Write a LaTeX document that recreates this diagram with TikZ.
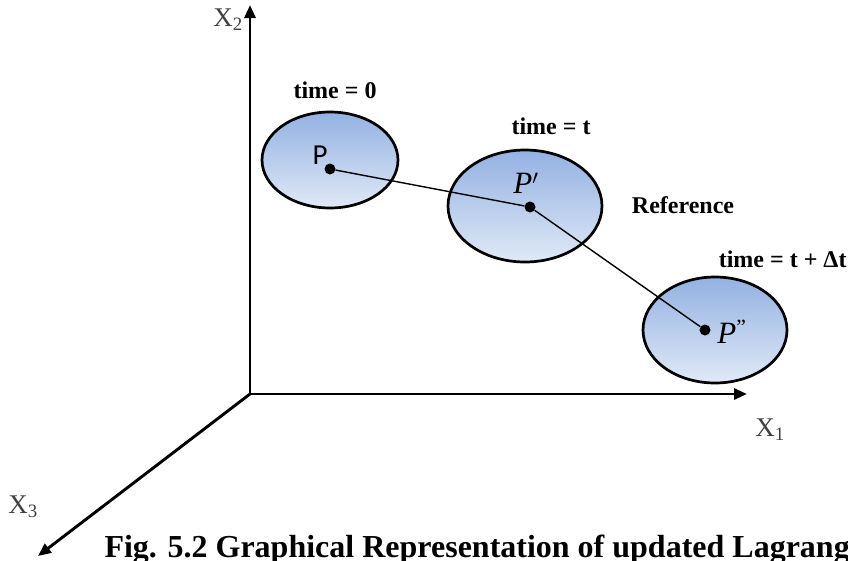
\documentclass[tikz,border=0pt]{standalone}
\usepackage{fontspec}
\setmainfont{Liberation Serif}
\newfontfamily\pointfont{Carlito}
\usetikzlibrary{arrows.meta,shapes.geometric}

\definecolor{bodytop}{HTML}{93B1E2}
\definecolor{bodybot}{HTML}{E0E9F7}

\tikzset{
  axis/.style={line width=2.9pt,-{Triangle[length=13pt,width=11pt]}},
  body/.style={ellipse,draw,line width=2.7pt,top color=bodytop,bottom color=bodybot,inner sep=0pt},
  mark dot/.style={circle,fill,inner sep=0pt,minimum size=11pt},
  axislabel/.style={text=black!75,font=\fontsize{27}{30}\selectfont},
  timelabel/.style={font=\bfseries\fontsize{24}{28}\selectfont}
}

\begin{document}
\begin{tikzpicture}[x=1pt,y=-1pt]
			\useasboundingbox (0,0) rectangle (848,560);
			\clip (0,0) rectangle (848,560);
			% axes
			\coordinate (O) at (250,394);
			\coordinate (x1tip) at (747,394);
			\coordinate (x2tip) at (250,5);
			\coordinate (x3tip) at (38,556);
			\draw[axis] (O) -- (x1tip);
			\draw[axis] (O) -- (x2tip);
			\draw[axis] (O) -- (x3tip);
			\node[axislabel] (x1lab) at (770,430) {X\textsubscript{1}};
			\node[axislabel] (x2lab) at (228,20) {X\textsubscript{2}};
			\node[axislabel] (x3lab) at (23,507) {X\textsubscript{3}};
			% bodies
			\node[body,minimum width=136pt,minimum height=96pt] (bodyP) at (330,160) {};
			\node[body,minimum width=154pt,minimum height=112pt] (bodyPp) at (525,206) {};
			\node[body,minimum width=144pt,minimum height=106pt] (bodyPpp) at (715,330) {};
			\node[mark dot] (dotP) at (330,169) {};
			\node[mark dot] (dotPp) at (530,207) {};
			\node[mark dot] (dotPpp) at (705,330) {};
			\draw[line width=1.4pt] (dotP) -- (dotPp) -- (dotPpp);
			\node[font=\pointfont\fontsize{29}{30}\selectfont] (labP) at (320,155) {P};
			\node[font=\fontsize{31}{32}\selectfont] (labPp) at (526,183) {\textit{P}$'$};
			\node[font=\fontsize{31}{32}\selectfont] (labPpp) at (732,332) {\textit{P}\textsuperscript{"}};
			% labels
			\node[timelabel] (t0) at (335,90) {time = 0};
			\node[timelabel] (t1) at (551,126) {time = t};
			\node[timelabel] (refl) at (683,205) {Reference};
			\node[timelabel,anchor=east] (t2) at (850,259) {time = t + Δt};
			\node[anchor=base west,font=\bfseries\fontsize{32}{36}\selectfont] (cap) at (101,557) {Fig. 5.2 Graphical Representation of updated Lagrangian};
		\end{tikzpicture}
\end{document}
